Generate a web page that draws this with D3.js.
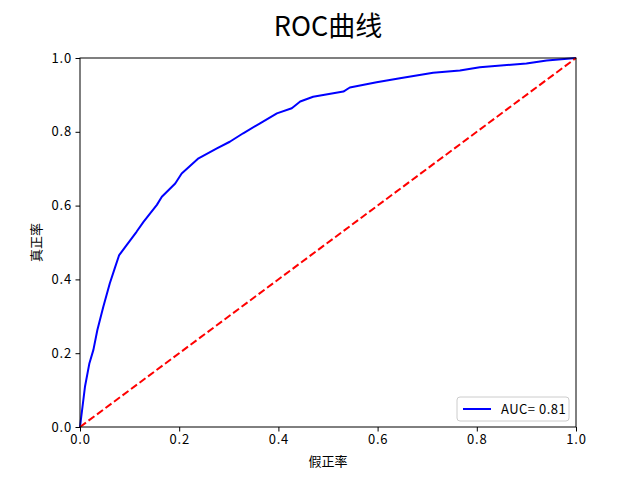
<!DOCTYPE html>
<html>
<head>
<meta charset="utf-8">
<script src="https://cdn.jsdelivr.net/npm/d3@7"></script>
<style>
  body { margin: 0; background: #fff; }
  svg text { font-family: "Noto Sans CJK SC", "DejaVu Sans", sans-serif; }
</style>
</head>
<body>
<div id="chart"></div>
<script>
// define constants
const w = 640;
const h = 480;
const margin = {left: 80, right: 64, top: 58, bottom: 53};

// data
const fpr = [0, 0.010, 0.019, 0.027, 0.035, 0.047, 0.060, 0.071, 0.079, 0.094, 0.114, 0.128,
    0.155, 0.165, 0.192, 0.205, 0.239, 0.276, 0.302, 0.329, 0.363, 0.397, 0.427, 0.444,
    0.470, 0.531, 0.544, 0.598, 0.645, 0.712, 0.766, 0.806, 0.900, 0.941, 1.0];
const tpr = [0, 0.109, 0.173, 0.209, 0.263, 0.326, 0.389, 0.434, 0.466, 0.493, 0.529, 0.556,
    0.602, 0.624, 0.660, 0.687, 0.728, 0.755, 0.773, 0.796, 0.823, 0.850, 0.864, 0.882,
    0.895, 0.909, 0.920, 0.934, 0.945, 0.960, 0.966, 0.975, 0.985, 0.993, 1.0];
const diagonal = [0, 1];
const ticks = [0, 0.2, 0.4, 0.6, 0.8, 1.0];
const aucLabel = "AUC= 0.81";
const title = "ROC曲线";
const xLabel = "假正率";
const yLabel = "真正率";

const svg = d3.select("#chart").append("svg").attr("width", w).attr("height", h);

// define scales
const xScale = d3.scaleLinear().domain([0, 1]).range([margin.left, w - margin.right]);
const yScale = d3.scaleLinear().domain([0, 1]).range([h - margin.bottom, margin.top]);

// lines
const roc = d3.line().x(d => xScale(d[0])).y(d => yScale(d[1]));
svg.append("path")
    .datum(d3.zip(fpr, tpr))
    .attr("fill", "none")
    .attr("stroke", "blue")
    .attr("stroke-width", 2)
    .attr("stroke-linejoin", "round")
    .attr("d", roc);

svg.append("path")
    .datum(d3.zip(diagonal, diagonal))
    .attr("fill", "none")
    .attr("stroke", "red")
    .attr("stroke-width", 2)
    .attr("stroke-dasharray", "7.4,3.2")
    .attr("d", roc);

// axes
const xAxis = d3.axisBottom(xScale).tickValues(ticks).tickFormat(d3.format(".1f")).tickSizeOuter(0).tickSize(4.5).tickPadding(3.5);
const yAxis = d3.axisLeft(yScale).tickValues(ticks).tickFormat(d3.format(".1f")).tickSizeOuter(0).tickSize(4.5).tickPadding(3.5);

svg.append("g")
    .attr("transform", "translate(0," + (h - margin.bottom) + ")")
    .call(xAxis);
svg.append("g")
    .attr("transform", "translate(" + margin.left + ",0)")
    .call(yAxis);

svg.selectAll(".tick text").attr("font-size", 13).attr("fill", "#000")
    .attr("letter-spacing", 0.8)
    .style("font-family", "'Noto Sans CJK SC', sans-serif");
svg.selectAll(".domain").remove();

// frame
svg.append("rect")
    .attr("x", xScale(0)).attr("y", yScale(1))
    .attr("width", xScale(1) - xScale(0)).attr("height", yScale(0) - yScale(1))
    .attr("fill", "none").attr("stroke", "#000").attr("stroke-width", 1);

// title and labels
svg.append("text").attr("x", (xScale(0) + xScale(1)) / 2).attr("y", 36)
    .attr("text-anchor", "middle").attr("font-size", 27).text(title);
svg.append("text").attr("x", (xScale(0) + xScale(1)) / 2).attr("y", 466)
    .attr("text-anchor", "middle").attr("font-size", 13).text(xLabel);
svg.append("text")
    .attr("transform", "translate(41," + (yScale(0.5)) + ") rotate(-90)")
    .attr("text-anchor", "middle").attr("font-size", 13).text(yLabel);

// legend
const lg = svg.append("g").attr("transform", "translate(457,397)");
lg.append("rect").attr("width", 112).attr("height", 24).attr("rx", 3)
    .attr("fill", "#fff").attr("fill-opacity", 0.8).attr("stroke", "#ccc");
lg.append("line").attr("x1", 6).attr("x2", 34).attr("y1", 12).attr("y2", 12)
    .attr("stroke", "blue").attr("stroke-width", 2);
lg.append("text").attr("x", 44).attr("y", 17).attr("font-size", 13)
    .attr("letter-spacing", 0.5).text(aucLabel);
</script>
</body>
</html>
